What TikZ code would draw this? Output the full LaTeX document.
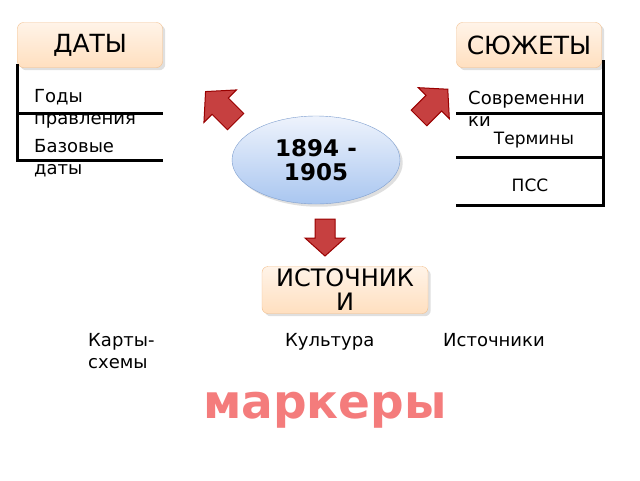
\documentclass[tikz,border=0pt]{standalone}
\usepackage{fontspec}
\setmainfont{DejaVu Sans}
\usetikzlibrary{shapes.geometric,shadows}
\definecolor{elt}{HTML}{EEF3FC}
\definecolor{elb}{HTML}{A9C6F0}
\definecolor{eld}{HTML}{7F9FCF}
\definecolor{mk}{HTML}{F47C7C}
\begin{document}
\begin{tikzpicture}[x=1pt,y=-1pt,
  hdr/.style={draw=orange!60!brown!50,rounded corners=6pt,top color=white!70!orange!30,bottom color=orange!25,minimum width=145pt,minimum height=45pt,font=\fontsize{25}{26}\selectfont,inner sep=0pt,drop shadow={opacity=0.25}},
  br/.style={line width=3pt,black},
  lbl/.style={font=\fontsize{18}{22}\selectfont,align=left,anchor=north west,inner sep=0pt},
  blk/.style={fill=red!70!black!75,draw=red!60!black,line width=1pt},
]
\useasboundingbox (0,0) rectangle (640,480);
\fill[white] (0,0) rectangle (640,480);
% headers
\node[hdr] (daty) at (90,45) {ДАТЫ};
\node[hdr] (syuzh) at (529,45) {СЮЖЕТЫ};
\node[hdr,minimum width=166pt,minimum height=47pt,align=center,font=\fontsize{24}{24}\selectfont] (ist) at (345,290) {ИСТОЧНИК\\И};
% left bracket
\draw[br] (17,64) -- (17,160) -- (163,160);
\draw[br] (17,113) -- (163,113);
\node[lbl] (g) at (34,89) {Годы\\правления};
\node[lbl] (b) at (34,139) {Базовые\\даты};
% right bracket
\draw[br] (603,60) -- (603,205) -- (456,205);
\draw[br] (603,113) -- (456,113);
\draw[br] (603,157) -- (456,157);
\node[lbl] (s) at (468,91) {Современни\\ки};
\node[font=\fontsize{17}{19}\selectfont] (t) at (534,140) {Термины};
\node[font=\fontsize{17}{19}\selectfont] (p) at (530,185) {ПСС};
% ellipse
\node[ellipse,draw=eld,top color=elt,bottom color=elb,minimum width=168pt,minimum height=88pt,align=center,font=\bfseries\fontsize{23}{24}\selectfont,drop shadow={opacity=0.25}] (e) at (316,160) {1894 -\\1905};
% arrows
\foreach \cx/\cy/\r/\s in {221/107/135/1.15, 433/104/45/1.1, 325/237/-90/1}{
  \begin{scope}[shift={(\cx,\cy)},rotate=\r,scale=\s]
    \draw[blk] (-18,-10) -- (1,-10) -- (1,-20) -- (19,0) -- (1,20) -- (1,10) -- (-18,10) -- cycle;
  \end{scope}
}
% bottom labels
\node[lbl] (k) at (88,333) {Карты-\\схемы};
\node[lbl] (ku) at (285,333) {Культура};
\node[lbl] (is) at (443,333) {Источники};
\node[font=\bfseries\fontsize{47}{47}\selectfont,text=mk] (m) at (325,410) {маркеры};
\end{tikzpicture}
\end{document}
